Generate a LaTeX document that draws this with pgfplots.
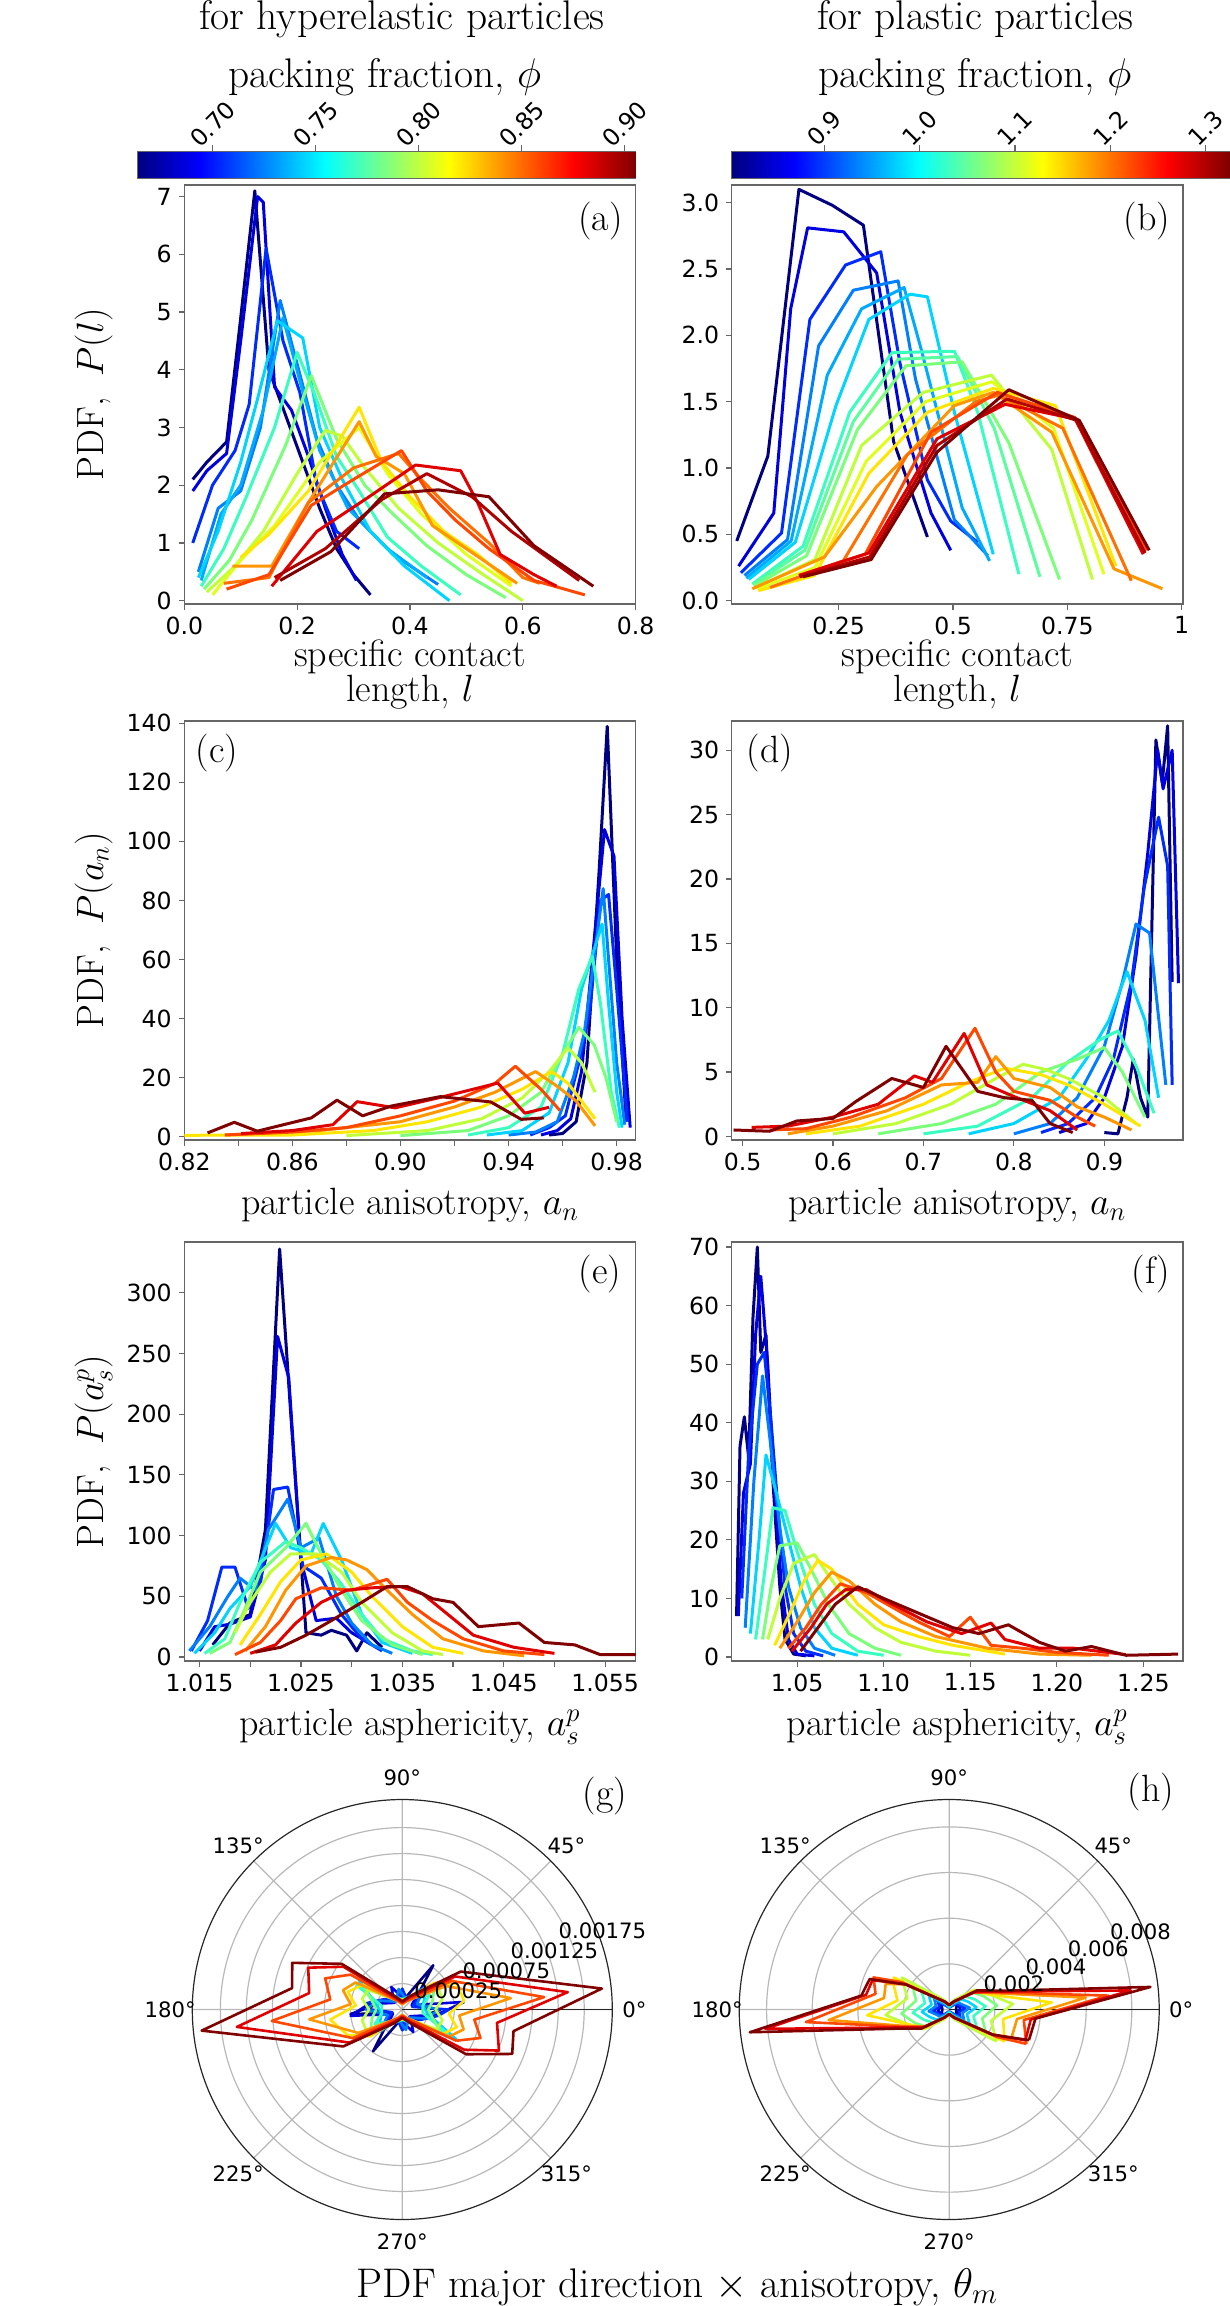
\RequirePackage{fix-cm}
\documentclass[border=0pt]{standalone}
\usepackage{fontspec}
\usepackage{pgfplots}
\pgfplotsset{compat=1.18}
\usepgfplotslibrary{polar}
\newfontfamily\dejavu{DejaVu Sans}
\newcommand\tickf{\dejavu\fontsize{11.8}{13}\selectfont}
\newcommand\polf{\dejavu\fontsize{10.6}{12}\selectfont}
\newcommand\labf{\fontsize{19}{17.5}\selectfont}
\newcommand\titf{\fontsize{20.7}{29}\selectfont}
\definecolor{c0}{rgb}{0,0,0.5}
\definecolor{c1}{rgb}{0,0,0.88}
\definecolor{c2}{rgb}{0,0.17,1}
\definecolor{c3}{rgb}{0,0.5,1}
\definecolor{c3b}{rgb}{0,0.67,1}
\definecolor{c4}{rgb}{0,0.83,1}
\definecolor{c5}{rgb}{0.22,1,0.75}
\definecolor{c5b}{rgb}{0.35,1,0.62}
\definecolor{c6}{rgb}{0.48,1,0.48}
\definecolor{c7}{rgb}{0.75,1,0.22}
\definecolor{c7b}{rgb}{0.88,1,0.1}
\definecolor{c8}{rgb}{1,0.9,0}
\definecolor{c9}{rgb}{1,0.59,0}
\definecolor{c9b}{rgb}{1,0.44,0}
\definecolor{c10}{rgb}{1,0.28,0}
\definecolor{c11}{rgb}{0.88,0,0}
\definecolor{c11b}{rgb}{0.69,0,0}
\definecolor{c12}{rgb}{0.5,0,0}
\pgfplotsset{
 cart/.style={
  scale only axis, anchor=north west,
  width=225.65pt, height=209.5pt,
  scaled ticks=false,
  axis line style={draw=black!60, line width=0.6pt},
  tick align=outside, xtick pos=left, ytick pos=left,
  major tick length=2.75pt,
  tick style={draw=black!60, line width=0.6pt},
  tick label style={font=\tickf},
  clip mode=individual,
  every axis x label/.style={at={(rel axis cs:0.5,-0.178)}, anchor=base, font=\labf, inner sep=0pt},
  every axis y label/.style={at={(rel axis cs:-0.1801,0.5)}, anchor=base, rotate=90, font=\labf, inner sep=0pt},
  every axis plot/.append style={line width=1.5pt, line join=round},
 },
 cbar/.style={
  scale only axis, anchor=north west, height=13pt, ymin=0, ymax=1, ytick=\empty,
  scaled ticks=false,
  colormap/jet, xtick pos=right, xticklabel pos=right, tick align=outside,
  major tick length=3.5pt,
  axis line style={draw=black!60, line width=0.6pt},
  tick style={draw=black!60, line width=0.6pt},
 },
 pol/.style={
  scale only axis, anchor=center, width=210pt, height=210pt, clip=false,
  scaled ticks=false, scaled y ticks=false,
  ymin=0, xtick={0,45,90,135,180,225,270,315},
  xticklabels={}, yticklabels={},
  grid=major, grid style={draw=black!28, line width=0.6pt},
  axis line style={draw=black!85, line width=0.6pt},
  major tick length=0pt,
  every axis plot/.append style={line width=1.3pt, line join=round},
 },
 k0/.style={c0}, k1/.style={c1}, k2/.style={c2}, k3/.style={c3}, k4/.style={c4},
 k5/.style={c5}, k6/.style={c6}, k7/.style={c7}, k8/.style={c8}, k9/.style={c9},
 k10/.style={c10}, k11/.style={c11}, k12/.style={c12},
}
\begin{document}
\begin{tikzpicture}
\useasboundingbox (0,0) rectangle (615pt,-1153pt);

% ---------------- titles ----------------
\node[anchor=base, font=\titf, inner sep=0pt] at (201pt,-15pt) {for hyperelastic particles};
\node[anchor=base, font=\titf, inner sep=0pt] at (192.3pt,-44pt) {packing fraction, $\phi$};
\node[anchor=base, font=\titf, inner sep=0pt] at (487.5pt,-15pt) {for plastic particles};
\node[anchor=base, font=\titf, inner sep=0pt] at (487.5pt,-44pt) {packing fraction, $\phi$};

% ---------------- colorbars ----------------
\begin{axis}[cbar, at={(68.8pt,-76pt)}, width=249pt,
  xmin=0.6635, xmax=0.9053, point meta min=0.6635, point meta max=0.9053,
  xtick={0.70,0.75,0.80,0.85,0.90}, xticklabels={0.70,0.75,0.80,0.85,0.90},
  xticklabel style={font=\tickf, anchor=center, yshift=10.5pt, rotate=45}]
\addplot[surf, shader=interp, point meta=x, mesh/cols=2] coordinates {(0.6635,0) (0.9053,0) (0.6635,1) (0.9053,1)};
\end{axis}
\begin{axis}[cbar, at={(365.85pt,-76pt)}, width=248.65pt,
  xmin=0.803, xmax=1.3245, point meta min=0.803, point meta max=1.3245,
  xtick={0.9,1.0,1.1,1.2,1.3}, xticklabels={0.9,1.0,1.1,1.2,1.3},
  xticklabel style={font=\tickf, anchor=center, yshift=8.5pt, rotate=45}]
\addplot[surf, shader=interp, point meta=x, mesh/cols=2] coordinates {(0.803,0) (1.3245,0) (0.803,1) (1.3245,1)};
\end{axis}

% ---------------- (a) ----------------
\begin{axis}[cart, at={(92.15pt,-92.5pt)},
  xmin=0, xmax=0.8, ymin=-0.058, ymax=7.2,
  xtick={0,0.2,0.4,0.6,0.8}, xticklabels={0.0,0.2,0.4,0.6,0.8},
  ytick={0,1,2,3,4,5,6,7}, yticklabels={0,1,2,3,4,5,6,7},
  xlabel={specific contact}, xlabel style={at={(rel axis cs:0.5,-0.148)}},
  ylabel={PDF,\hspace{0.55em}$P(l)$}]
\addplot[k0] coordinates {(0.015,2.1) (0.04,2.4) (0.075,2.75) (0.10,4.9) (0.125,7.1) (0.15,4.0) (0.18,3.2) (0.21,2.4) (0.24,1.6) (0.27,0.9) (0.30,0.45) (0.33,0.1)};
\addplot[k1] coordinates {(0.015,1.9) (0.04,2.25) (0.075,2.55) (0.10,4.5) (0.13,7.0) (0.14,6.9) (0.16,3.7) (0.19,3.3) (0.22,2.5) (0.25,1.6) (0.28,0.8) (0.305,0.35)};
\addplot[k2] coordinates {(0.015,1.0) (0.05,2.0) (0.09,2.6) (0.115,3.4) (0.145,6.1) (0.175,4.5) (0.205,3.6) (0.235,2.0) (0.27,1.2) (0.31,0.9)};
\addplot[k3] coordinates {(0.025,0.5) (0.06,1.6) (0.10,1.9) (0.135,3.0) (0.17,5.2) (0.20,4.1) (0.235,2.8) (0.27,2.0) (0.31,1.4) (0.37,0.8) (0.45,0.28)};
\addplot[c3b] coordinates {(0.03,0.35) (0.065,1.5) (0.10,2.0) (0.14,3.3) (0.175,4.9) (0.205,3.8) (0.24,2.6) (0.29,1.6) (0.36,0.9) (0.43,0.4)};
\addplot[k4] coordinates {(0.025,0.4) (0.06,1.2) (0.10,2.4) (0.13,3.5) (0.165,4.85) (0.21,4.55) (0.24,3.0) (0.28,2.1) (0.33,1.2) (0.39,0.6) (0.47,0.0)};
\addplot[k5] coordinates {(0.03,0.25) (0.07,0.9) (0.11,1.8) (0.16,3.0) (0.20,4.3) (0.23,3.6) (0.27,2.5) (0.31,1.9) (0.36,1.1) (0.42,0.6) (0.49,0.1)};
\addplot[k6] coordinates {(0.035,0.2) (0.08,0.7) (0.12,1.4) (0.18,2.7) (0.225,3.9) (0.27,2.8) (0.32,2.0) (0.37,1.5) (0.43,0.95) (0.50,0.45) (0.57,0.05)};
\addplot[k7] coordinates {(0.04,0.15) (0.09,0.6) (0.14,1.2) (0.20,2.2) (0.25,2.95) (0.28,2.85) (0.32,2.3) (0.38,1.6) (0.45,1.0) (0.53,0.45) (0.60,0.0)};
\addplot[c7b] coordinates {(0.05,0.1) (0.10,0.7) (0.16,1.3) (0.24,2.4) (0.31,3.0) (0.36,2.2) (0.42,1.5) (0.50,0.8) (0.58,0.25)};
\addplot[k8] coordinates {(0.10,0.75) (0.15,1.15) (0.22,1.9) (0.31,3.35) (0.35,2.4) (0.40,1.8) (0.46,1.2) (0.52,0.8) (0.58,0.3)};
\addplot[k9] coordinates {(0.085,0.6) (0.155,0.6) (0.22,1.7) (0.31,3.1) (0.34,2.5) (0.39,2.2) (0.44,1.3) (0.50,0.9) (0.59,0.3)};
\addplot[c9b] coordinates {(0.07,0.3) (0.15,0.4) (0.22,1.7) (0.30,2.3) (0.38,2.55) (0.42,2.1) (0.47,1.6) (0.54,1.0) (0.60,0.4) (0.63,0.3)};
\addplot[k10] coordinates {(0.075,0.2) (0.15,0.45) (0.225,1.65) (0.30,2.1) (0.385,2.6) (0.43,1.9) (0.48,1.4) (0.54,0.9) (0.62,0.35) (0.71,0.1)};
\addplot[k11] coordinates {(0.155,0.25) (0.235,1.2) (0.32,1.75) (0.41,2.35) (0.49,2.25) (0.52,1.7) (0.56,0.8) (0.62,0.45) (0.66,0.25)};
\addplot[c11b] coordinates {(0.16,0.4) (0.25,0.9) (0.35,1.75) (0.43,2.2) (0.51,1.8) (0.58,1.2) (0.70,0.35)};
\addplot[k12] coordinates {(0.17,0.35) (0.26,0.85) (0.355,1.85) (0.45,1.92) (0.54,1.8) (0.62,0.95) (0.68,0.55) (0.725,0.25)};
\node[font=\labf, anchor=base, inner sep=0pt] at (rel axis cs:0.5,-0.2315) {length, $l$};
\node[font=\labf] at (rel axis cs:0.9224,0.915) {(a)};
\end{axis}

% ---------------- (b) ----------------
\begin{axis}[cart, at={(365.85pt,-92.5pt)},
  xmin=0.016, xmax=1.003, ymin=-0.025, ymax=3.133,
  xtick={0.25,0.5,0.75,1}, xticklabels={0.25,0.5,0.75,1},
  ytick={0,0.5,1,1.5,2,2.5,3}, yticklabels={0.0,0.5,1.0,1.5,2.0,2.5,3.0},
  xlabel={specific contact}, xlabel style={at={(rel axis cs:0.5,-0.148)}}]
\addplot[k0] coordinates {(0.027,0.45) (0.095,1.09) (0.163,3.10) (0.236,2.98) (0.304,2.83) (0.37,1.2) (0.444,0.48)};
\addplot[k1] coordinates {(0.031,0.26) (0.108,0.66) (0.145,2.2) (0.182,2.81) (0.261,2.78) (0.333,2.47) (0.384,1.42) (0.452,0.66) (0.495,0.38)};
\addplot[k2] coordinates {(0.036,0.21) (0.125,0.51) (0.187,2.12) (0.265,2.53) (0.342,2.63) (0.384,1.79) (0.444,0.91) (0.495,0.60) (0.554,0.44)};
\addplot[k3] coordinates {(0.044,0.19) (0.138,0.46) (0.206,1.92) (0.282,2.34) (0.38,2.41) (0.418,1.67) (0.503,0.61) (0.576,0.34)};
\addplot[c3b] coordinates {(0.048,0.17) (0.146,0.45) (0.225,1.7) (0.30,2.2) (0.393,2.36) (0.43,1.9) (0.52,0.7) (0.58,0.3)};
\addplot[k4] coordinates {(0.053,0.16) (0.155,0.44) (0.244,1.47) (0.316,2.12) (0.406,2.31) (0.444,2.29) (0.503,1.42) (0.588,0.35)};
\addplot[k5] coordinates {(0.061,0.125) (0.172,0.41) (0.274,1.42) (0.367,1.87) (0.503,1.88) (0.554,1.42) (0.644,0.20)};
\addplot[c5b] coordinates {(0.063,0.12) (0.176,0.38) (0.282,1.35) (0.38,1.82) (0.51,1.84) (0.59,1.3) (0.69,0.18)};
\addplot[k6] coordinates {(0.065,0.11) (0.180,0.34) (0.291,1.29) (0.397,1.77) (0.520,1.80) (0.622,1.19) (0.733,0.16)};
\addplot[k7] coordinates {(0.070,0.10) (0.198,0.31) (0.300,1.17) (0.435,1.57) (0.584,1.70) (0.716,1.14) (0.805,0.16)};
\addplot[c7b] coordinates {(0.072,0.09) (0.198,0.25) (0.31,1.05) (0.44,1.5) (0.585,1.65) (0.72,1.3) (0.83,0.2)};
\addplot[k8] coordinates {(0.074,0.075) (0.197,0.19) (0.316,0.96) (0.444,1.42) (0.588,1.60) (0.724,1.47) (0.856,0.26)};
\addplot[k9] coordinates {(0.061,0.09) (0.219,0.33) (0.333,0.86) (0.503,1.47) (0.588,1.57) (0.716,1.27) (0.852,0.24) (0.958,0.09)};
\addplot[c9b] coordinates {(0.10,0.1) (0.26,0.3) (0.40,1.1) (0.55,1.5) (0.60,1.55) (0.74,1.3) (0.89,0.15)};
\addplot[k10] coordinates {(0.163,0.19) (0.308,0.35) (0.452,1.27) (0.597,1.57) (0.767,1.38) (0.924,0.38)};
\addplot[k11] coordinates {(0.163,0.19) (0.316,0.36) (0.465,1.22) (0.614,1.48) (0.767,1.37) (0.916,0.35)};
\addplot[c11b] coordinates {(0.165,0.18) (0.318,0.33) (0.465,1.17) (0.618,1.52) (0.77,1.36) (0.92,0.36)};
\addplot[k12] coordinates {(0.172,0.18) (0.321,0.31) (0.465,1.12) (0.622,1.59) (0.776,1.36) (0.929,0.38)};
\node[font=\labf, anchor=base, inner sep=0pt] at (rel axis cs:0.5,-0.2315) {length, $l$};
\node[font=\labf] at (rel axis cs:0.920,0.915) {(b)};
\end{axis}

% ---------------- (c) ----------------
\begin{axis}[cart, at={(92.15pt,-360.5pt)},
  xmin=0.82, xmax=0.987, ymin=-1.2, ymax=140.8,
  xtick={0.82,0.84,0.86,0.88,0.90,0.92,0.94,0.96,0.98}, xticklabels={0.82,,0.86,,0.90,,0.94,,0.98},
  ytick={0,20,40,60,80,100,120,140}, yticklabels={0,20,40,60,80,100,120,140},
  xlabel={particle anisotropy, $a_n$},
  ylabel={PDF,\hspace{0.55em}$P(a_n)$}]
\addplot[k0] coordinates {(0.955,0.5) (0.960,1) (0.965,5) (0.969,25) (0.9735,90) (0.9765,139) (0.980,60) (0.9835,5)};
\addplot[k1] coordinates {(0.952,0.5) (0.958,2) (0.963,6) (0.967,22) (0.971,60) (0.9755,104) (0.979,95) (0.982,40) (0.985,3)};
\addplot[k2] coordinates {(0.948,0.5) (0.955,3) (0.961,7) (0.966,25) (0.970,42) (0.974,80) (0.977,82) (0.980,50) (0.984,5)};
\addplot[k3] coordinates {(0.940,0.5) (0.950,1.5) (0.958,5) (0.964,20) (0.968,35) (0.975,84) (0.977,60) (0.980,25) (0.983,4)};
\addplot[k4] coordinates {(0.932,0.5) (0.945,2) (0.955,8) (0.962,25) (0.967,50) (0.9746,72) (0.977,45) (0.980,15) (0.982,3)};
\addplot[k5] coordinates {(0.925,0.5) (0.940,3) (0.952,10) (0.960,28) (0.966,50) (0.971,61) (0.974,45) (0.978,15) (0.981,3)};
\addplot[k6] coordinates {(0.90,0.3) (0.925,2) (0.940,7) (0.952,15) (0.960,28) (0.966,37) (0.9717,31) (0.976,20) (0.980,5)};
\addplot[k7] coordinates {(0.88,0.3) (0.91,2) (0.93,6) (0.945,13) (0.955,22) (0.962,30) (0.967,25) (0.972,15)};
\addplot[k8] coordinates {(0.82,0.4) (0.86,0.5) (0.89,2) (0.91,5) (0.93,10) (0.945,16) (0.956,22) (0.962,18) (0.967,12) (0.972,6)};
\addplot[k9] coordinates {(0.835,0.5) (0.87,2) (0.90,5) (0.92,10) (0.935,15) (0.950,22) (0.958,17) (0.965,12) (0.972,3.6)};
\addplot[k10] coordinates {(0.835,0.5) (0.86,1.5) (0.88,3) (0.90,7) (0.92,12) (0.935,18) (0.9425,23.8) (0.952,16) (0.959,8.8)};
\addplot[k11] coordinates {(0.841,1) (0.86,2) (0.875,4) (0.884,11.8) (0.898,9.7) (0.915,13.3) (0.936,18.1) (0.946,7.9) (0.955,9.9)};
\addplot[k12] coordinates {(0.8286,1.2) (0.8385,4.8) (0.847,1.8) (0.867,6.3) (0.8765,12.3) (0.886,7) (0.8965,10.3) (0.9147,13.5) (0.9334,11.7) (0.9447,5.8) (0.953,6.3)};
\node[font=\labf] at (rel axis cs:0.0725,0.9236) {(c)};
\end{axis}

% ---------------- (d) ----------------
\begin{axis}[cart, at={(365.85pt,-360.5pt)},
  xmin=0.488, xmax=0.987, ymin=-0.28, ymax=32.27,
  xtick={0.5,0.6,0.7,0.8,0.9}, xticklabels={0.5,0.6,0.7,0.8,0.9},
  ytick={0,5,10,15,20,25,30}, yticklabels={0,5,10,15,20,25,30},
  xlabel={particle anisotropy, $a_n$}]
\addplot[k0] coordinates {(0.90,0.3) (0.915,0.2) (0.925,3) (0.932,6) (0.94,3) (0.948,1.5) (0.957,30.8) (0.964,27.5) (0.970,31.9) (0.975,12)};
\addplot[k1] coordinates {(0.85,0.3) (0.88,1) (0.90,3) (0.92,7) (0.935,14) (0.948,22) (0.959,30) (0.965,27) (0.975,30) (0.982,11.9)};
\addplot[k2] coordinates {(0.83,0.3) (0.86,1) (0.89,3) (0.91,6) (0.93,12) (0.944,19.3) (0.96,24.8) (0.97,21) (0.975,4)};
\addplot[k3] coordinates {(0.80,0.2) (0.84,1) (0.87,3) (0.90,7) (0.92,12) (0.935,16.5) (0.95,15.8) (0.968,4)};
\addplot[k4] coordinates {(0.75,0.2) (0.80,1) (0.85,3) (0.88,6) (0.905,9) (0.925,12.8) (0.945,9) (0.960,3)};
\addplot[k5] coordinates {(0.70,0.2) (0.76,0.8) (0.82,3) (0.86,5.8) (0.895,7.5) (0.915,8.2) (0.935,5.5) (0.955,1.8)};
\addplot[k6] coordinates {(0.65,0.2) (0.72,1) (0.78,2.5) (0.83,5) (0.87,6) (0.9,6.9) (0.92,5) (0.945,1.5)};
\addplot[k7] coordinates {(0.60,0.2) (0.67,1) (0.73,2.5) (0.78,4.5) (0.81,5.6) (0.835,5.2) (0.86,4.5) (0.9,3) (0.935,1)};
\addplot[k8] coordinates {(0.57,0.2) (0.63,0.8) (0.70,2.5) (0.75,4.2) (0.79,5.3) (0.83,4.8) (0.86,4) (0.9,2.5) (0.94,0.8)};
\addplot[k9] coordinates {(0.55,0.2) (0.6,0.8) (0.66,2) (0.72,4) (0.76,4.2) (0.78,6.2) (0.80,4.5) (0.84,3.8) (0.87,2.3) (0.9,1.5) (0.93,0.5)};
\addplot[k10] coordinates {(0.53,0.5) (0.57,0.6) (0.62,1.5) (0.68,3) (0.72,4.5) (0.757,8.4) (0.78,5) (0.80,3.5) (0.84,2.8) (0.87,1.5) (0.89,0.8)};
\addplot[k11] coordinates {(0.51,0.7) (0.55,0.8) (0.6,1.5) (0.65,2.5) (0.69,4.7) (0.71,4.2) (0.745,8) (0.77,4) (0.8,3.1) (0.84,2) (0.87,0.5)};
\addplot[k12] coordinates {(0.49,0.5) (0.53,0.4) (0.56,1.2) (0.60,1.4) (0.625,2.7) (0.665,4.5) (0.70,3.8) (0.725,7) (0.76,3.5) (0.79,3) (0.82,2.8) (0.84,1) (0.865,0.3)};
\node[font=\labf] at (rel axis cs:0.0849,0.9236) {(d)};
\end{axis}

% ---------------- (e) ----------------
\begin{axis}[cart, at={(92.15pt,-621pt)},
  xmin=1.0135, xmax=1.058, ymin=-3.3, ymax=341.8,
  xtick={1.015,1.020,1.025,1.030,1.035,1.040,1.045,1.050,1.055}, xticklabels={1.015,,1.025,,1.035,,1.045,,1.055},
  ytick={0,50,100,150,200,250,300}, yticklabels={0,50,100,150,200,250,300},
  xlabel={particle asphericity, $a_s^p$},
  ylabel={PDF,\hspace{0.55em}$P(a_s^p)$}]
\addplot[k0] coordinates {(1.0163,10) (1.018,28) (1.020,35) (1.0215,105) (1.0229,336) (1.024,200) (1.0255,20) (1.027,18) (1.028,22) (1.0295,18) (1.0305,5) (1.0315,20) (1.033,8)};
\addplot[k1] coordinates {(1.0150,5) (1.0165,25) (1.018,27) (1.0200,33) (1.0215,80) (1.0227,264) (1.0238,230) (1.025,80) (1.0265,30) (1.0285,32) (1.030,20) (1.032,10)};
\addplot[k2] coordinates {(1.0142,5) (1.0158,30) (1.0172,74) (1.0185,74) (1.0198,40) (1.021,60) (1.0223,138) (1.0237,140) (1.0252,75) (1.027,65) (1.029,35) (1.031,15) (1.033,5)};
\addplot[k3] coordinates {(1.0140,5) (1.016,25) (1.0178,50) (1.019,65) (1.0205,55) (1.0218,105) (1.0237,130) (1.025,90) (1.0268,98) (1.0285,50) (1.030,28) (1.032,10) (1.034,3)};
\addplot[k4] coordinates {(1.0145,3) (1.0165,20) (1.018,40) (1.020,58) (1.0225,110) (1.024,90) (1.026,85) (1.0272,110) (1.029,80) (1.031,35) (1.033,12) (1.036,3)};
\addplot[k5] coordinates {(1.0155,3) (1.0175,15) (1.019,45) (1.021,78) (1.0235,95) (1.025,90) (1.027,80) (1.029,60) (1.031,35) (1.033,15) (1.036,5) (1.038,2)};
\addplot[k6] coordinates {(1.016,3) (1.018,12) (1.0195,40) (1.021,70) (1.0235,90) (1.0255,110) (1.027,85) (1.029,55) (1.031,30) (1.034,10) (1.037,2)};
\addplot[k7] coordinates {(1.0185,20) (1.020,45) (1.022,70) (1.024,85) (1.0265,85) (1.029,70) (1.031,45) (1.034,20) (1.037,5) (1.039,2)};
\addplot[k8] coordinates {(1.019,10) (1.021,35) (1.023,62) (1.025,80) (1.0275,85) (1.030,70) (1.032,50) (1.035,25) (1.038,8) (1.041,3)};
\addplot[k9] coordinates {(1.0195,5) (1.0215,25) (1.0235,55) (1.0255,75) (1.028,82) (1.0295,80) (1.0315,72) (1.0335,55) (1.036,35) (1.039,15) (1.043,5) (1.047,1)};
\addplot[k10] coordinates {(1.0185,2) (1.021,12) (1.023,30) (1.0245,48) (1.027,57) (1.030,55) (1.0335,64) (1.0355,45) (1.038,30) (1.041,15) (1.045,5) (1.049,2)};
\addplot[k11] coordinates {(1.020,3) (1.0225,10) (1.0245,28) (1.027,45) (1.0295,55) (1.032,57) (1.0348,58) (1.037,52) (1.0395,35) (1.042,18) (1.046,8) (1.05,3)};
\addplot[k12] coordinates {(1.0205,4) (1.023,8) (1.0255,18) (1.028,30) (1.031,45) (1.0335,58) (1.0355,58) (1.038,48) (1.040,45) (1.0425,25) (1.0465,28) (1.049,12) (1.052,10) (1.0545,2) (1.058,2)};
\node[font=\labf] at (rel axis cs:0.921,0.9236) {(e)};
\end{axis}

% ---------------- (f) ----------------
\begin{axis}[cart, at={(365.85pt,-621pt)},
  xmin=1.0122, xmax=1.2729, ymin=-0.68, ymax=70.85,
  xtick={1.05,1.10,1.15,1.20,1.25}, xticklabels={1.05,1.10,1.15,1.20,1.25},
  ytick={0,10,20,30,40,50,60,70}, yticklabels={0,10,20,30,40,50,60,70},
  xlabel={particle asphericity, $a_s^p$}]
\addplot[k0] coordinates {(1.015,7) (1.017,36) (1.0195,41) (1.022,34) (1.0245,58) (1.027,70) (1.029,52) (1.032,55) (1.036,30) (1.040,12) (1.043,3) (1.048,0.5) (1.055,0.2)};
\addplot[k1] coordinates {(1.016,7) (1.019,28) (1.023,33) (1.026,55) (1.029,65) (1.033,50) (1.037,28) (1.041,12) (1.045,3) (1.050,0.5) (1.06,0.2)};
\addplot[k2] coordinates {(1.018,10) (1.022,35) (1.027,50) (1.031,52) (1.035,40) (1.039,25) (1.043,12) (1.048,4) (1.055,1) (1.065,0.2)};
\addplot[k3] coordinates {(1.020,5) (1.025,30) (1.030,48) (1.034,38) (1.040,22) (1.045,12) (1.052,5) (1.06,1.5) (1.072,0.3)};
\addplot[k4] coordinates {(1.023,4) (1.028,20) (1.032,34.5) (1.038,28) (1.045,20) (1.052,12) (1.06,5) (1.07,1.5) (1.085,0.3)};
\addplot[k5] coordinates {(1.026,3) (1.031,14) (1.036,25.5) (1.043,25) (1.050,18) (1.06,9) (1.07,4) (1.085,1) (1.10,0.3)};
\addplot[k6] coordinates {(1.030,3) (1.035,12) (1.040,19) (1.050,19.5) (1.058,15) (1.068,9) (1.08,4) (1.095,1.5) (1.11,0.3)};
\addplot[k7] coordinates {(1.033,3) (1.040,10) (1.048,16) (1.060,17.5) (1.068,14) (1.08,9) (1.095,5) (1.11,2.5) (1.13,1) (1.15,0.3)};
\addplot[k8] coordinates {(1.037,2) (1.045,7) (1.054,13) (1.062,16.5) (1.07,15) (1.085,9) (1.10,5.5) (1.12,3.5) (1.14,2) (1.17,0.5)};
\addplot[k9] coordinates {(1.040,1.5) (1.050,6) (1.060,11) (1.070,14.5) (1.08,13) (1.095,9) (1.11,6) (1.13,3.5) (1.16,1.5) (1.19,0.5) (1.22,0.3)};
\addplot[k10] coordinates {(1.045,1.5) (1.055,5) (1.064,9) (1.075,12.5) (1.09,11) (1.105,8.5) (1.12,6) (1.138,3.5) (1.15,6.8) (1.162,2) (1.18,1.5) (1.20,0.8) (1.23,0.3)};
\addplot[k11] coordinates {(1.047,1) (1.058,5) (1.067,9) (1.078,11.5) (1.09,11.5) (1.105,9) (1.125,6) (1.145,4) (1.162,5.8) (1.17,3) (1.19,1.5) (1.21,1.5) (1.24,0.4)};
\addplot[k12] coordinates {(1.052,1) (1.062,5) (1.072,9) (1.085,12) (1.10,10) (1.12,7.5) (1.14,5) (1.155,4) (1.172,5.5) (1.19,2.5) (1.205,1) (1.22,1.8) (1.24,0.3) (1.27,0.5)};
\node[font=\labf] at (rel axis cs:0.929,0.9236) {(f)};
\end{axis}

% ---------------- (g) ----------------
\begin{polaraxis}[pol, at={(201.15pt,-1004.75pt)}, ymax=0.00202,
  ytick={0.00025,0.0005,0.00075,0.001,0.00125,0.0015,0.00175}]
\addplot[k0] coordinates {(0,0.00037) (20,0.0001) (55,0.00052) (80,0.0001) (100,0.00015) (135,0.0001) (160,0.0002) (185,0.0005) (200,0.0001) (235,0.00049) (260,0.0001) (280,0.00015) (315,0.0001) (340,0.0002) (360,0.00037)};
\addplot[k1] coordinates {(7,0.0006) (25,0.0001) (45,0.0002) (75,0.0001) (116,0.00024) (140,0.0001) (171,0.00033) (187,0.0005) (205,0.0001) (225,0.0002) (255,0.0001) (296,0.00024) (320,0.0001) (351,0.00033) (367,0.0006)};
\addplot[k2] coordinates {(0,0.00045) (15,0.0001) (40,0.00025) (60,0.0001) (90,0.0002) (120,0.0001) (150,0.0002) (170,0.00035) (180,0.0003) (195,0.0001) (220,0.00025) (240,0.0001) (270,0.0002) (300,0.0001) (330,0.0002) (350,0.00035) (360,0.00045)};
\addplot[k3] coordinates {(0,0.00035) (20,0.00015) (45,0.0003) (70,0.0001) (100,0.0002) (130,0.0001) (160,0.00025) (180,0.00035) (200,0.00015) (225,0.0003) (250,0.0001) (280,0.0002) (310,0.0001) (340,0.00025) (360,0.00035)};
\addplot[k4] coordinates {(-29,0.0006) (-10,0.00025) (10,0.0002) (30,0.00025) (60,0.00015) (90,0.0001) (120,0.00015) (145,0.00052) (170,0.00025) (190,0.0002) (210,0.00025) (240,0.00015) (270,0.0001) (300,0.00015) (331,0.0006)};
\addplot[k5] coordinates {(-28,0.0005) (-10,0.0002) (10,0.0002) (28,0.0003) (50,0.00015) (90,0.0001) (130,0.00015) (152,0.0005) (170,0.0002) (190,0.0002) (208,0.0003) (230,0.00015) (270,0.0001) (310,0.00015) (332,0.0005)};
\addplot[k6] coordinates {(-30,0.00042) (-15,0.0003) (0,0.00025) (15,0.0003) (30,0.00035) (50,0.0002) (90,0.00008) (130,0.0002) (150,0.00042) (165,0.0003) (180,0.00025) (195,0.0003) (210,0.00035) (230,0.0002) (270,0.00008) (310,0.0002) (330,0.00042)};
\addplot[k7] coordinates {(-30,0.00038) (-15,0.0004) (0,0.00032) (15,0.0004) (30,0.0004) (60,0.0001) (120,0.0001) (150,0.00038) (165,0.0004) (180,0.00032) (195,0.0004) (210,0.0004) (240,0.0001) (300,0.0001) (330,0.00038)};
\addplot[k8] coordinates {(-32,0.00045) (-18,0.00055) (-5,0.00045) (8,0.0006) (25,0.00058) (40,0.0004) (70,0.0001) (110,0.0001) (148,0.00045) (162,0.00055) (175,0.00045) (188,0.0007) (205,0.00058) (220,0.0004) (250,0.0001) (290,0.0001) (328,0.00045)};
\addplot[k9] coordinates {(-30,0.00052) (-18,0.00062) (-6,0.00055) (6,0.00105) (28,0.00048) (60,0.0001) (90,0.00005) (120,0.0001) (150,0.00052) (162,0.0006) (174,0.0005) (186,0.0009) (208,0.00048) (240,0.0001) (270,0.00005) (300,0.0001) (330,0.00052)};
\addplot[k10] coordinates {(-30,0.0006) (-20,0.0008) (-8,0.0007) (5,0.00137) (30,0.00055) (60,0.0001) (90,0.00006) (120,0.0001) (146,0.0006) (158,0.0008) (172,0.0007) (185,0.00126) (210,0.00055) (240,0.0001) (270,0.00006) (300,0.0001) (330,0.0006)};
\addplot[k11] coordinates {(-33,0.00071) (-23,0.00101) (-8,0.00092) (6,0.0016) (32,0.0006) (60,0.00013) (90,0.00007) (120,0.00013) (144,0.0007) (156,0.00099) (170,0.00091) (186,0.0016) (212,0.0006) (240,0.00013) (270,0.00007) (300,0.00013) (327,0.00071)};
\addplot[k12] coordinates {(-35,0.00075) (-22,0.00114) (-11,0.00109) (6,0.00193) (33,0.00067) (60,0.00015) (90,0.00008) (120,0.00015) (143,0.00073) (157,0.00115) (169,0.00108) (186,0.00194) (212,0.00067) (240,0.00015) (270,0.00008) (300,0.00015) (325,0.00075)};
\node[font=\polf] at (axis cs:0,0.002232) {0°};
\node[font=\polf] at (axis cs:45,0.002232) {45°};
\node[font=\polf] at (axis cs:90,0.002232) {90°};
\node[font=\polf] at (axis cs:135,0.002232) {135°};
\node[font=\polf] at (axis cs:180,0.002232) {180°};
\node[font=\polf] at (axis cs:225,0.002232) {225°};
\node[font=\polf] at (axis cs:270,0.002232) {270°};
\node[font=\polf] at (axis cs:315,0.002232) {315°};
\node[font=\polf, xshift=16pt, yshift=4.5pt] at (axis cs:22.5,0.00025) {0.00025};
\node[font=\polf, xshift=16pt, yshift=4.5pt] at (axis cs:22.5,0.00075) {0.00075};
\node[font=\polf, xshift=16pt, yshift=4.5pt] at (axis cs:22.5,0.00125) {0.00125};
\node[font=\polf, xshift=16pt, yshift=4.5pt] at (axis cs:22.5,0.00175) {0.00175};
\end{polaraxis}

% ---------------- (h) ----------------
\begin{polaraxis}[pol, at={(474.6pt,-1004.75pt)}, ymax=0.0092,
  ytick={0.002,0.004,0.006,0.008}]
\addplot[k0] coordinates {(-40,0.00045) (0,0.0003) (40,0.00045) (90,0.00015) (140,0.00045) (180,0.0003) (220,0.00045) (270,0.00015) (320,0.00045)};
\addplot[k1] coordinates {(-40,0.0005) (-15,0.0004) (5,0.0005) (25,0.0004) (45,0.00035) (90,0.0001) (135,0.0005) (165,0.0004) (185,0.0005) (205,0.0004) (225,0.00035) (270,0.0001) (320,0.0005)};
\addplot[k2] coordinates {(-35,0.0006) (-15,0.00045) (5,0.0007) (22,0.0005) (40,0.0004) (60,0.00015) (90,0.0001) (120,0.00015) (145,0.0006) (165,0.00045) (185,0.0007) (202,0.0005) (220,0.0004) (240,0.00015) (270,0.0001) (300,0.00015) (325,0.0006)};
\addplot[k3] coordinates {(-35,0.0008) (-15,0.0006) (5,0.0009) (22,0.0006) (40,0.0005) (60,0.0002) (90,0.0001) (120,0.0002) (145,0.0008) (165,0.0006) (185,0.0009) (202,0.0006) (220,0.0005) (240,0.0002) (270,0.0001) (300,0.0002) (325,0.0008)};
\addplot[k4] coordinates {(-35,0.0011) (-15,0.0008) (5,0.0012) (22,0.0009) (40,0.0007) (60,0.0003) (90,0.0001) (120,0.0003) (145,0.0011) (165,0.0008) (185,0.0012) (202,0.0009) (220,0.0007) (240,0.0003) (270,0.0001) (300,0.0003) (325,0.0011)};
\addplot[k5] coordinates {(-35,0.0015) (-15,0.0011) (5,0.0016) (22,0.0012) (40,0.0009) (60,0.0004) (90,0.00015) (120,0.0004) (145,0.0015) (165,0.0011) (185,0.0016) (202,0.0012) (220,0.0009) (240,0.0004) (270,0.00015) (300,0.0004) (325,0.0015)};
\addplot[k6] coordinates {(-35,0.0020) (-15,0.0015) (5,0.0021) (22,0.0016) (40,0.0012) (60,0.0005) (90,0.0002) (120,0.0005) (145,0.002) (165,0.0015) (185,0.0021) (202,0.0016) (220,0.0012) (240,0.0005) (270,0.0002) (300,0.0005) (325,0.002)};
\addplot[k7] coordinates {(-34,0.0025) (-15,0.0019) (5,0.0028) (20,0.0019) (38,0.0014) (60,0.0005) (90,0.0002) (120,0.0005) (146,0.0025) (165,0.0019) (185,0.0028) (200,0.0019) (218,0.0014) (240,0.0005) (270,0.0002) (300,0.0005) (326,0.0025)};
\addplot[k8] coordinates {(-30,0.0028) (-10,0.0024) (4,0.0045) (20,0.0019) (38,0.0013) (60,0.0004) (90,0.0002) (120,0.0004) (150,0.0028) (158,0.0026) (170,0.0023) (184,0.0036) (200,0.0019) (218,0.0013) (240,0.0004) (270,0.0002) (300,0.0004) (330,0.0028)};
\addplot[k9] coordinates {(-25,0.0030) (-8,0.0030) (5,0.0060) (20,0.0021) (36,0.0013) (60,0.0004) (90,0.0002) (120,0.0004) (150,0.0022) (158,0.003) (170,0.0029) (185,0.0053) (200,0.0021) (216,0.0013) (240,0.0004) (270,0.0002) (300,0.0004) (330,0.0022) (335,0.003)};
\addplot[k10] coordinates {(-24,0.0037) (-8,0.0033) (5,0.0070) (20,0.0022) (35,0.0013) (60,0.0004) (90,0.0002) (120,0.0004) (150,0.0024) (157,0.0036) (168,0.0033) (185,0.0063) (200,0.0022) (215,0.0013) (240,0.0004) (270,0.0002) (300,0.0004) (330,0.0024) (336,0.0037)};
\addplot[k11] coordinates {(-22,0.0036) (-7,0.0036) (6,0.0080) (20,0.0023) (34,0.0014) (60,0.0004) (90,0.0002) (120,0.0004) (150,0.0022) (159,0.0036) (170,0.0037) (186,0.0081) (200,0.0023) (214,0.0014) (240,0.0004) (270,0.0002) (300,0.0004) (330,0.0022) (338,0.0036)};
\addplot[k12] coordinates {(-21,0.00374) (-6,0.0038) (6.4,0.00887) (20,0.0024) (34.5,0.00148) (60,0.0004) (90,0.0002) (120,0.0004) (150,0.0022) (159,0.00373) (171,0.0039) (186.5,0.00879) (200,0.00245) (214.5,0.00148) (240,0.0004) (270,0.0002) (300,0.0004) (330,0.0022) (339,0.00374)};
\node[font=\polf] at (axis cs:0,0.010166) {0°};
\node[font=\polf] at (axis cs:45,0.010166) {45°};
\node[font=\polf] at (axis cs:90,0.010166) {90°};
\node[font=\polf] at (axis cs:135,0.010166) {135°};
\node[font=\polf] at (axis cs:180,0.010166) {180°};
\node[font=\polf] at (axis cs:225,0.010166) {225°};
\node[font=\polf] at (axis cs:270,0.010166) {270°};
\node[font=\polf] at (axis cs:315,0.010166) {315°};
\node[font=\polf, xshift=11.25pt, yshift=4pt] at (axis cs:22.5,0.002) {0.002};
\node[font=\polf, xshift=11.25pt, yshift=4pt] at (axis cs:22.5,0.004) {0.004};
\node[font=\polf, xshift=11.25pt, yshift=4pt] at (axis cs:22.5,0.006) {0.006};
\node[font=\polf, xshift=11.25pt, yshift=4pt] at (axis cs:22.5,0.008) {0.008};
\end{polaraxis}

\node[font=\labf] at (302.5pt,-898pt) {(g)};
\node[font=\labf] at (575.5pt,-896pt) {(h)};
\node[anchor=base, font=\titf, inner sep=0pt] at (338.5pt,-1148.5pt) {PDF major direction $\times$ anisotropy, $\theta_m$};
\end{tikzpicture}
\end{document}
